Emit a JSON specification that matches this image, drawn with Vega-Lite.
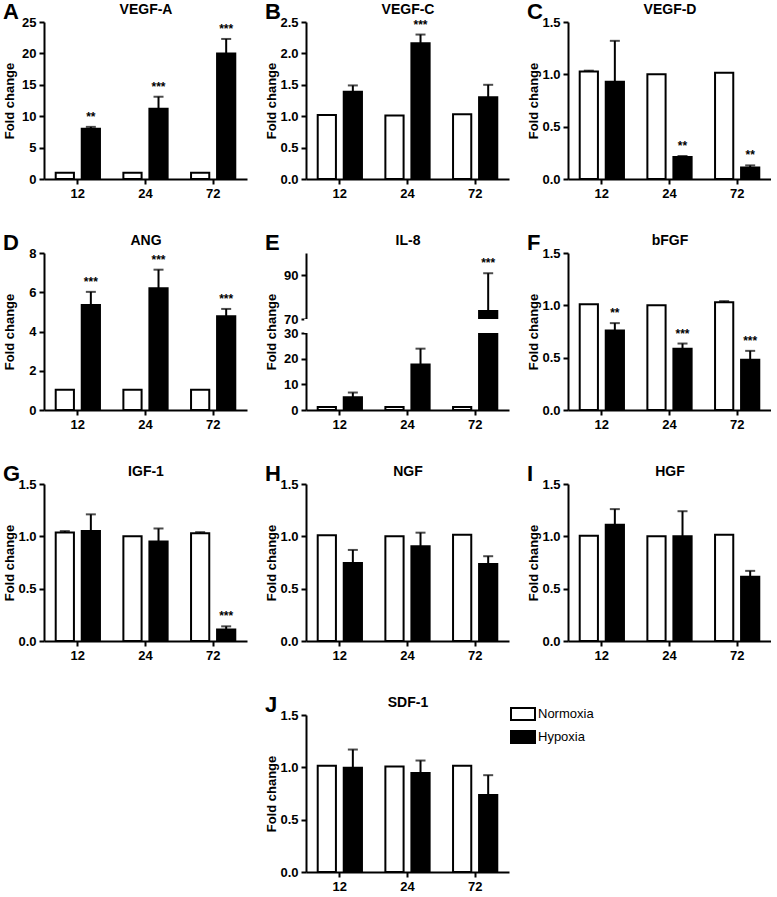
{
  "$schema": "https://vega.github.io/schema/vega-lite/v6.json",
  "padding": {"left": 3, "top": 1, "right": 0, "bottom": 0},
  "background": "white",
  "data": {"values": [
    {"panel":"A","time":"12","cond":"Normoxia","mean":1.0},
    {"panel":"A","time":"12","cond":"Hypoxia","mean":8.0,"hi":8.3,"sig":"**"},
    {"panel":"A","time":"24","cond":"Normoxia","mean":1.0},
    {"panel":"A","time":"24","cond":"Hypoxia","mean":11.2,"hi":13.1,"sig":"***"},
    {"panel":"A","time":"72","cond":"Normoxia","mean":1.0},
    {"panel":"A","time":"72","cond":"Hypoxia","mean":20.0,"hi":22.3,"sig":"***"},
    {"panel":"B","time":"12","cond":"Normoxia","mean":1.02},
    {"panel":"B","time":"12","cond":"Hypoxia","mean":1.39,"hi":1.49},
    {"panel":"B","time":"24","cond":"Normoxia","mean":1.01},
    {"panel":"B","time":"24","cond":"Hypoxia","mean":2.16,"hi":2.3,"sig":"***"},
    {"panel":"B","time":"72","cond":"Normoxia","mean":1.03},
    {"panel":"B","time":"72","cond":"Hypoxia","mean":1.3,"hi":1.5},
    {"panel":"C","time":"12","cond":"Normoxia","mean":1.026,"hi":1.035},
    {"panel":"C","time":"12","cond":"Hypoxia","mean":0.93,"hi":1.32},
    {"panel":"C","time":"24","cond":"Normoxia","mean":1.0},
    {"panel":"C","time":"24","cond":"Hypoxia","mean":0.21,"hi":0.22,"sig":"**"},
    {"panel":"C","time":"72","cond":"Normoxia","mean":1.014},
    {"panel":"C","time":"72","cond":"Hypoxia","mean":0.11,"hi":0.13,"sig":"**"},
    {"panel":"D","time":"12","cond":"Normoxia","mean":1.03},
    {"panel":"D","time":"12","cond":"Hypoxia","mean":5.35,"hi":6.02,"sig":"***"},
    {"panel":"D","time":"24","cond":"Normoxia","mean":1.03},
    {"panel":"D","time":"24","cond":"Hypoxia","mean":6.2,"hi":7.15,"sig":"***"},
    {"panel":"D","time":"72","cond":"Normoxia","mean":1.03},
    {"panel":"D","time":"72","cond":"Hypoxia","mean":4.78,"hi":5.15,"sig":"***"},
    {"panel":"E","time":"12","cond":"Normoxia","mean":1.2},
    {"panel":"E","time":"12","cond":"Hypoxia","mean":5.0,"hi":6.8},
    {"panel":"E","time":"24","cond":"Normoxia","mean":1.2},
    {"panel":"E","time":"24","cond":"Hypoxia","mean":17.7,"hi":23.9},
    {"panel":"E","time":"72","cond":"Normoxia","mean":1.2},
    {"panel":"E","time":"72","cond":"Hypoxia","mean":73.6,"hi":90.8,"sig":"***"},
    {"panel":"F","time":"12","cond":"Normoxia","mean":1.01},
    {"panel":"F","time":"12","cond":"Hypoxia","mean":0.76,"hi":0.83,"sig":"**"},
    {"panel":"F","time":"24","cond":"Normoxia","mean":1.0},
    {"panel":"F","time":"24","cond":"Hypoxia","mean":0.585,"hi":0.635,"sig":"***"},
    {"panel":"F","time":"72","cond":"Normoxia","mean":1.03,"hi":1.04},
    {"panel":"F","time":"72","cond":"Hypoxia","mean":0.48,"hi":0.565,"sig":"***"},
    {"panel":"G","time":"12","cond":"Normoxia","mean":1.037,"hi":1.05},
    {"panel":"G","time":"12","cond":"Hypoxia","mean":1.05,"hi":1.21},
    {"panel":"G","time":"24","cond":"Normoxia","mean":1.0},
    {"panel":"G","time":"24","cond":"Hypoxia","mean":0.95,"hi":1.075},
    {"panel":"G","time":"72","cond":"Normoxia","mean":1.03,"hi":1.04},
    {"panel":"G","time":"72","cond":"Hypoxia","mean":0.11,"hi":0.14,"sig":"***"},
    {"panel":"H","time":"12","cond":"Normoxia","mean":1.01},
    {"panel":"H","time":"12","cond":"Hypoxia","mean":0.745,"hi":0.87},
    {"panel":"H","time":"24","cond":"Normoxia","mean":1.0},
    {"panel":"H","time":"24","cond":"Hypoxia","mean":0.905,"hi":1.035},
    {"panel":"H","time":"72","cond":"Normoxia","mean":1.015},
    {"panel":"H","time":"72","cond":"Hypoxia","mean":0.735,"hi":0.81},
    {"panel":"I","time":"12","cond":"Normoxia","mean":1.005},
    {"panel":"I","time":"12","cond":"Hypoxia","mean":1.11,"hi":1.26},
    {"panel":"I","time":"24","cond":"Normoxia","mean":1.0},
    {"panel":"I","time":"24","cond":"Hypoxia","mean":1.0,"hi":1.24},
    {"panel":"I","time":"72","cond":"Normoxia","mean":1.015},
    {"panel":"I","time":"72","cond":"Hypoxia","mean":0.615,"hi":0.67},
    {"panel":"J","time":"12","cond":"Normoxia","mean":1.014},
    {"panel":"J","time":"12","cond":"Hypoxia","mean":0.995,"hi":1.17},
    {"panel":"J","time":"24","cond":"Normoxia","mean":1.007},
    {"panel":"J","time":"24","cond":"Hypoxia","mean":0.945,"hi":1.065},
    {"panel":"J","time":"72","cond":"Normoxia","mean":1.014},
    {"panel":"J","time":"72","cond":"Hypoxia","mean":0.735,"hi":0.925}
  ]},
  "columns": 3,
  "bounds": "flush",
  "spacing": {"row": 74, "column": 59},
  "resolve": {"scale": {"fill": "independent"}, "legend": {"fill": "independent"}},
  "concat": [
    {
      "title": {"text": "A"}, "width": 203, "height": 157,
      "transform": [{"filter": "datum.panel === 'A'"}],
      "layer": [
        {"mark": {"type": "bar", "stroke": "black", "strokeWidth": 2},
         "encoding": {
           "x": {"field": "time", "type": "nominal", "scale": {"paddingInner": 0, "paddingOuter": 0}, "axis": {"orient": "bottom", "title": null}},
           "xOffset": {"field": "cond", "type": "nominal", "sort": ["Normoxia", "Hypoxia"], "scale": {"paddingInner": 0.3, "paddingOuter": 0.45}},
           "y": {"field": "mean", "type": "quantitative", "title": "Fold change", "scale": {"domain": [0, 25], "nice": false}, "axis": {"values": [0, 5, 10, 15, 20, 25]}},
           "fill": {"field": "cond", "type": "nominal", "scale": {"domain": ["Normoxia", "Hypoxia"], "range": ["white", "black"]}, "legend": null}}},
        {"transform": [{"filter": "datum.hi != null"}], "mark": {"type": "rule", "strokeWidth": 2, "color": "black"},
         "encoding": {"x": {"field": "time", "type": "nominal", "axis": null}, "xOffset": {"field": "cond", "type": "nominal", "sort": ["Normoxia", "Hypoxia"]}, "y": {"field": "mean", "type": "quantitative", "title": "Fold change", "axis": {"values": [0, 5, 10, 15, 20, 25]}}, "y2": {"field": "hi"}}},
        {"transform": [{"filter": "datum.hi != null"}], "mark": {"type": "tick", "thickness": 2, "size": 10, "color": "black"},
         "encoding": {"x": {"field": "time", "type": "nominal", "axis": {"orient": "top", "title": "VEGF-A", "labels": false, "ticks": false, "domain": false}}, "xOffset": {"field": "cond", "type": "nominal", "sort": ["Normoxia", "Hypoxia"]}, "y": {"field": "hi", "type": "quantitative", "title": "Fold change", "axis": {"values": [0, 5, 10, 15, 20, 25]}}}},
        {"transform": [{"filter": "datum.sig"}], "mark": {"type": "text", "baseline": "alphabetic", "dy": -6, "fontSize": 12, "fontWeight": "bold", "color": "black"},
         "encoding": {"x": {"field": "time", "type": "nominal", "axis": null}, "xOffset": {"field": "cond", "type": "nominal", "sort": ["Normoxia", "Hypoxia"]}, "y": {"field": "hi", "type": "quantitative", "title": "Fold change", "axis": {"values": [0, 5, 10, 15, 20, 25]}}, "text": {"field": "sig"}}}
      ],
      "resolve": {"axis": {"x": "independent"}}
    },
    {
      "title": {"text": "B"}, "width": 203, "height": 157,
      "transform": [{"filter": "datum.panel === 'B'"}],
      "layer": [
        {"mark": {"type": "bar", "stroke": "black", "strokeWidth": 2},
         "encoding": {
           "x": {"field": "time", "type": "nominal", "scale": {"paddingInner": 0, "paddingOuter": 0}, "axis": {"orient": "bottom", "title": null}},
           "xOffset": {"field": "cond", "type": "nominal", "sort": ["Normoxia", "Hypoxia"], "scale": {"paddingInner": 0.3, "paddingOuter": 0.45}},
           "y": {"field": "mean", "type": "quantitative", "title": "Fold change", "scale": {"domain": [0, 2.5], "nice": false}, "axis": {"values": [0, 0.5, 1, 1.5, 2, 2.5], "format": ".1f"}},
           "fill": {"field": "cond", "type": "nominal", "scale": {"domain": ["Normoxia", "Hypoxia"], "range": ["white", "black"]}, "legend": null}}},
        {"transform": [{"filter": "datum.hi != null"}], "mark": {"type": "rule", "strokeWidth": 2, "color": "black"},
         "encoding": {"x": {"field": "time", "type": "nominal", "axis": null}, "xOffset": {"field": "cond", "type": "nominal", "sort": ["Normoxia", "Hypoxia"]}, "y": {"field": "mean", "type": "quantitative", "title": "Fold change", "axis": {"values": [0, 0.5, 1, 1.5, 2, 2.5], "format": ".1f"}}, "y2": {"field": "hi"}}},
        {"transform": [{"filter": "datum.hi != null"}], "mark": {"type": "tick", "thickness": 2, "size": 10, "color": "black"},
         "encoding": {"x": {"field": "time", "type": "nominal", "axis": {"orient": "top", "title": "VEGF-C", "labels": false, "ticks": false, "domain": false}}, "xOffset": {"field": "cond", "type": "nominal", "sort": ["Normoxia", "Hypoxia"]}, "y": {"field": "hi", "type": "quantitative", "title": "Fold change", "axis": {"values": [0, 0.5, 1, 1.5, 2, 2.5], "format": ".1f"}}}},
        {"transform": [{"filter": "datum.sig"}], "mark": {"type": "text", "baseline": "alphabetic", "dy": -6, "fontSize": 12, "fontWeight": "bold", "color": "black"},
         "encoding": {"x": {"field": "time", "type": "nominal", "axis": null}, "xOffset": {"field": "cond", "type": "nominal", "sort": ["Normoxia", "Hypoxia"]}, "y": {"field": "hi", "type": "quantitative", "title": "Fold change", "axis": {"values": [0, 0.5, 1, 1.5, 2, 2.5], "format": ".1f"}}, "text": {"field": "sig"}}}
      ],
      "resolve": {"axis": {"x": "independent"}}
    },
    {
      "title": {"text": "C"}, "width": 203, "height": 157,
      "transform": [{"filter": "datum.panel === 'C'"}],
      "layer": [
        {"mark": {"type": "bar", "stroke": "black", "strokeWidth": 2},
         "encoding": {
           "x": {"field": "time", "type": "nominal", "scale": {"paddingInner": 0, "paddingOuter": 0}, "axis": {"orient": "bottom", "title": null}},
           "xOffset": {"field": "cond", "type": "nominal", "sort": ["Normoxia", "Hypoxia"], "scale": {"paddingInner": 0.3, "paddingOuter": 0.45}},
           "y": {"field": "mean", "type": "quantitative", "title": "Fold change", "scale": {"domain": [0, 1.5], "nice": false}, "axis": {"values": [0, 0.5, 1, 1.5], "format": ".1f"}},
           "fill": {"field": "cond", "type": "nominal", "scale": {"domain": ["Normoxia", "Hypoxia"], "range": ["white", "black"]}, "legend": null}}},
        {"transform": [{"filter": "datum.hi != null"}], "mark": {"type": "rule", "strokeWidth": 2, "color": "black"},
         "encoding": {"x": {"field": "time", "type": "nominal", "axis": null}, "xOffset": {"field": "cond", "type": "nominal", "sort": ["Normoxia", "Hypoxia"]}, "y": {"field": "mean", "type": "quantitative", "title": "Fold change", "axis": {"values": [0, 0.5, 1, 1.5], "format": ".1f"}}, "y2": {"field": "hi"}}},
        {"transform": [{"filter": "datum.hi != null"}], "mark": {"type": "tick", "thickness": 2, "size": 10, "color": "black"},
         "encoding": {"x": {"field": "time", "type": "nominal", "axis": {"orient": "top", "title": "VEGF-D", "labels": false, "ticks": false, "domain": false}}, "xOffset": {"field": "cond", "type": "nominal", "sort": ["Normoxia", "Hypoxia"]}, "y": {"field": "hi", "type": "quantitative", "title": "Fold change", "axis": {"values": [0, 0.5, 1, 1.5], "format": ".1f"}}}},
        {"transform": [{"filter": "datum.sig"}], "mark": {"type": "text", "baseline": "alphabetic", "dy": -6, "fontSize": 12, "fontWeight": "bold", "color": "black"},
         "encoding": {"x": {"field": "time", "type": "nominal", "axis": null}, "xOffset": {"field": "cond", "type": "nominal", "sort": ["Normoxia", "Hypoxia"]}, "y": {"field": "hi", "type": "quantitative", "title": "Fold change", "axis": {"values": [0, 0.5, 1, 1.5], "format": ".1f"}}, "text": {"field": "sig"}}}
      ],
      "resolve": {"axis": {"x": "independent"}}
    },
    {
      "title": {"text": "D"}, "width": 203, "height": 157,
      "transform": [{"filter": "datum.panel === 'D'"}],
      "layer": [
        {"mark": {"type": "bar", "stroke": "black", "strokeWidth": 2},
         "encoding": {
           "x": {"field": "time", "type": "nominal", "scale": {"paddingInner": 0, "paddingOuter": 0}, "axis": {"orient": "bottom", "title": null}},
           "xOffset": {"field": "cond", "type": "nominal", "sort": ["Normoxia", "Hypoxia"], "scale": {"paddingInner": 0.3, "paddingOuter": 0.45}},
           "y": {"field": "mean", "type": "quantitative", "title": "Fold change", "scale": {"domain": [0, 8], "nice": false}, "axis": {"values": [0, 2, 4, 6, 8]}},
           "fill": {"field": "cond", "type": "nominal", "scale": {"domain": ["Normoxia", "Hypoxia"], "range": ["white", "black"]}, "legend": null}}},
        {"transform": [{"filter": "datum.hi != null"}], "mark": {"type": "rule", "strokeWidth": 2, "color": "black"},
         "encoding": {"x": {"field": "time", "type": "nominal", "axis": null}, "xOffset": {"field": "cond", "type": "nominal", "sort": ["Normoxia", "Hypoxia"]}, "y": {"field": "mean", "type": "quantitative", "title": "Fold change", "axis": {"values": [0, 2, 4, 6, 8]}}, "y2": {"field": "hi"}}},
        {"transform": [{"filter": "datum.hi != null"}], "mark": {"type": "tick", "thickness": 2, "size": 10, "color": "black"},
         "encoding": {"x": {"field": "time", "type": "nominal", "axis": {"orient": "top", "title": "ANG", "labels": false, "ticks": false, "domain": false}}, "xOffset": {"field": "cond", "type": "nominal", "sort": ["Normoxia", "Hypoxia"]}, "y": {"field": "hi", "type": "quantitative", "title": "Fold change", "axis": {"values": [0, 2, 4, 6, 8]}}}},
        {"transform": [{"filter": "datum.sig"}], "mark": {"type": "text", "baseline": "alphabetic", "dy": -6, "fontSize": 12, "fontWeight": "bold", "color": "black"},
         "encoding": {"x": {"field": "time", "type": "nominal", "axis": null}, "xOffset": {"field": "cond", "type": "nominal", "sort": ["Normoxia", "Hypoxia"]}, "y": {"field": "hi", "type": "quantitative", "title": "Fold change", "axis": {"values": [0, 2, 4, 6, 8]}}, "text": {"field": "sig"}}}
      ],
      "resolve": {"axis": {"x": "independent"}}
    },
    {
      "title": {"text": "E"}, "width": 203, "height": 157,
      "transform": [{"filter": "datum.panel === 'E'"}],
      "layer": [
        {"mark": {"type": "bar", "stroke": "black", "strokeWidth": 2},
         "encoding": {
           "x": {"field": "time", "type": "nominal", "scale": {"paddingInner": 0, "paddingOuter": 0}, "axis": {"orient": "bottom", "title": null}},
           "xOffset": {"field": "cond", "type": "nominal", "sort": ["Normoxia", "Hypoxia"], "scale": {"paddingInner": 0.3, "paddingOuter": 0.45}},
           "y": {"field": "mean", "type": "quantitative", "title": "Fold change", "scale": {"domain": [0, 30, 70, 100], "range": [157, 80, 66, 0], "nice": false, "zero": false}, "axis": {"values": [0, 10, 20, 30, 70, 90]}},
           "fill": {"field": "cond", "type": "nominal", "scale": {"domain": ["Normoxia", "Hypoxia"], "range": ["white", "black"]}, "legend": null}}},
        {"mark": {"type": "rect", "fill": "white", "xOffset": -1.5},
         "encoding": {"x": {"field": "time", "type": "nominal", "axis": null}, "y": {"datum": 30, "type": "quantitative", "title": "Fold change", "axis": {"values": [0, 10, 20, 30, 70, 90]}}, "y2": {"datum": 70}}},
        {"transform": [{"filter": "datum.hi != null"}], "mark": {"type": "rule", "strokeWidth": 2, "color": "black"},
         "encoding": {"x": {"field": "time", "type": "nominal", "axis": null}, "xOffset": {"field": "cond", "type": "nominal", "sort": ["Normoxia", "Hypoxia"]}, "y": {"field": "mean", "type": "quantitative", "title": "Fold change", "axis": {"values": [0, 10, 20, 30, 70, 90]}}, "y2": {"field": "hi"}}},
        {"transform": [{"filter": "datum.hi != null"}], "mark": {"type": "tick", "thickness": 2, "size": 10, "color": "black"},
         "encoding": {"x": {"field": "time", "type": "nominal", "axis": {"orient": "top", "title": "IL-8", "labels": false, "ticks": false, "domain": false}}, "xOffset": {"field": "cond", "type": "nominal", "sort": ["Normoxia", "Hypoxia"]}, "y": {"field": "hi", "type": "quantitative", "title": "Fold change", "axis": {"values": [0, 10, 20, 30, 70, 90]}}}},
        {"transform": [{"filter": "datum.sig"}], "mark": {"type": "text", "baseline": "alphabetic", "dy": -6, "fontSize": 12, "fontWeight": "bold", "color": "black"},
         "encoding": {"x": {"field": "time", "type": "nominal", "axis": null}, "xOffset": {"field": "cond", "type": "nominal", "sort": ["Normoxia", "Hypoxia"]}, "y": {"field": "hi", "type": "quantitative", "title": "Fold change", "axis": {"values": [0, 10, 20, 30, 70, 90]}}, "text": {"field": "sig"}}}
      ],
      "resolve": {"axis": {"x": "independent"}}
    },
    {
      "title": {"text": "F"}, "width": 203, "height": 157,
      "transform": [{"filter": "datum.panel === 'F'"}],
      "layer": [
        {"mark": {"type": "bar", "stroke": "black", "strokeWidth": 2},
         "encoding": {
           "x": {"field": "time", "type": "nominal", "scale": {"paddingInner": 0, "paddingOuter": 0}, "axis": {"orient": "bottom", "title": null}},
           "xOffset": {"field": "cond", "type": "nominal", "sort": ["Normoxia", "Hypoxia"], "scale": {"paddingInner": 0.3, "paddingOuter": 0.45}},
           "y": {"field": "mean", "type": "quantitative", "title": "Fold change", "scale": {"domain": [0, 1.5], "nice": false}, "axis": {"values": [0, 0.5, 1, 1.5], "format": ".1f"}},
           "fill": {"field": "cond", "type": "nominal", "scale": {"domain": ["Normoxia", "Hypoxia"], "range": ["white", "black"]}, "legend": null}}},
        {"transform": [{"filter": "datum.hi != null"}], "mark": {"type": "rule", "strokeWidth": 2, "color": "black"},
         "encoding": {"x": {"field": "time", "type": "nominal", "axis": null}, "xOffset": {"field": "cond", "type": "nominal", "sort": ["Normoxia", "Hypoxia"]}, "y": {"field": "mean", "type": "quantitative", "title": "Fold change", "axis": {"values": [0, 0.5, 1, 1.5], "format": ".1f"}}, "y2": {"field": "hi"}}},
        {"transform": [{"filter": "datum.hi != null"}], "mark": {"type": "tick", "thickness": 2, "size": 10, "color": "black"},
         "encoding": {"x": {"field": "time", "type": "nominal", "axis": {"orient": "top", "title": "bFGF", "labels": false, "ticks": false, "domain": false}}, "xOffset": {"field": "cond", "type": "nominal", "sort": ["Normoxia", "Hypoxia"]}, "y": {"field": "hi", "type": "quantitative", "title": "Fold change", "axis": {"values": [0, 0.5, 1, 1.5], "format": ".1f"}}}},
        {"transform": [{"filter": "datum.sig"}], "mark": {"type": "text", "baseline": "alphabetic", "dy": -6, "fontSize": 12, "fontWeight": "bold", "color": "black"},
         "encoding": {"x": {"field": "time", "type": "nominal", "axis": null}, "xOffset": {"field": "cond", "type": "nominal", "sort": ["Normoxia", "Hypoxia"]}, "y": {"field": "hi", "type": "quantitative", "title": "Fold change", "axis": {"values": [0, 0.5, 1, 1.5], "format": ".1f"}}, "text": {"field": "sig"}}}
      ],
      "resolve": {"axis": {"x": "independent"}}
    },
    {
      "title": {"text": "G"}, "width": 203, "height": 157,
      "transform": [{"filter": "datum.panel === 'G'"}],
      "layer": [
        {"mark": {"type": "bar", "stroke": "black", "strokeWidth": 2},
         "encoding": {
           "x": {"field": "time", "type": "nominal", "scale": {"paddingInner": 0, "paddingOuter": 0}, "axis": {"orient": "bottom", "title": null}},
           "xOffset": {"field": "cond", "type": "nominal", "sort": ["Normoxia", "Hypoxia"], "scale": {"paddingInner": 0.3, "paddingOuter": 0.45}},
           "y": {"field": "mean", "type": "quantitative", "title": "Fold change", "scale": {"domain": [0, 1.5], "nice": false}, "axis": {"values": [0, 0.5, 1, 1.5], "format": ".1f"}},
           "fill": {"field": "cond", "type": "nominal", "scale": {"domain": ["Normoxia", "Hypoxia"], "range": ["white", "black"]}, "legend": null}}},
        {"transform": [{"filter": "datum.hi != null"}], "mark": {"type": "rule", "strokeWidth": 2, "color": "black"},
         "encoding": {"x": {"field": "time", "type": "nominal", "axis": null}, "xOffset": {"field": "cond", "type": "nominal", "sort": ["Normoxia", "Hypoxia"]}, "y": {"field": "mean", "type": "quantitative", "title": "Fold change", "axis": {"values": [0, 0.5, 1, 1.5], "format": ".1f"}}, "y2": {"field": "hi"}}},
        {"transform": [{"filter": "datum.hi != null"}], "mark": {"type": "tick", "thickness": 2, "size": 10, "color": "black"},
         "encoding": {"x": {"field": "time", "type": "nominal", "axis": {"orient": "top", "title": "IGF-1", "labels": false, "ticks": false, "domain": false}}, "xOffset": {"field": "cond", "type": "nominal", "sort": ["Normoxia", "Hypoxia"]}, "y": {"field": "hi", "type": "quantitative", "title": "Fold change", "axis": {"values": [0, 0.5, 1, 1.5], "format": ".1f"}}}},
        {"transform": [{"filter": "datum.sig"}], "mark": {"type": "text", "baseline": "alphabetic", "dy": -6, "fontSize": 12, "fontWeight": "bold", "color": "black"},
         "encoding": {"x": {"field": "time", "type": "nominal", "axis": null}, "xOffset": {"field": "cond", "type": "nominal", "sort": ["Normoxia", "Hypoxia"]}, "y": {"field": "hi", "type": "quantitative", "title": "Fold change", "axis": {"values": [0, 0.5, 1, 1.5], "format": ".1f"}}, "text": {"field": "sig"}}}
      ],
      "resolve": {"axis": {"x": "independent"}}
    },
    {
      "title": {"text": "H"}, "width": 203, "height": 157,
      "transform": [{"filter": "datum.panel === 'H'"}],
      "layer": [
        {"mark": {"type": "bar", "stroke": "black", "strokeWidth": 2},
         "encoding": {
           "x": {"field": "time", "type": "nominal", "scale": {"paddingInner": 0, "paddingOuter": 0}, "axis": {"orient": "bottom", "title": null}},
           "xOffset": {"field": "cond", "type": "nominal", "sort": ["Normoxia", "Hypoxia"], "scale": {"paddingInner": 0.3, "paddingOuter": 0.45}},
           "y": {"field": "mean", "type": "quantitative", "title": "Fold change", "scale": {"domain": [0, 1.5], "nice": false}, "axis": {"values": [0, 0.5, 1, 1.5], "format": ".1f"}},
           "fill": {"field": "cond", "type": "nominal", "scale": {"domain": ["Normoxia", "Hypoxia"], "range": ["white", "black"]}, "legend": null}}},
        {"transform": [{"filter": "datum.hi != null"}], "mark": {"type": "rule", "strokeWidth": 2, "color": "black"},
         "encoding": {"x": {"field": "time", "type": "nominal", "axis": null}, "xOffset": {"field": "cond", "type": "nominal", "sort": ["Normoxia", "Hypoxia"]}, "y": {"field": "mean", "type": "quantitative", "title": "Fold change", "axis": {"values": [0, 0.5, 1, 1.5], "format": ".1f"}}, "y2": {"field": "hi"}}},
        {"transform": [{"filter": "datum.hi != null"}], "mark": {"type": "tick", "thickness": 2, "size": 10, "color": "black"},
         "encoding": {"x": {"field": "time", "type": "nominal", "axis": {"orient": "top", "title": "NGF", "labels": false, "ticks": false, "domain": false}}, "xOffset": {"field": "cond", "type": "nominal", "sort": ["Normoxia", "Hypoxia"]}, "y": {"field": "hi", "type": "quantitative", "title": "Fold change", "axis": {"values": [0, 0.5, 1, 1.5], "format": ".1f"}}}}
      ],
      "resolve": {"axis": {"x": "independent"}}
    },
    {
      "title": {"text": "I"}, "width": 203, "height": 157,
      "transform": [{"filter": "datum.panel === 'I'"}],
      "layer": [
        {"mark": {"type": "bar", "stroke": "black", "strokeWidth": 2},
         "encoding": {
           "x": {"field": "time", "type": "nominal", "scale": {"paddingInner": 0, "paddingOuter": 0}, "axis": {"orient": "bottom", "title": null}},
           "xOffset": {"field": "cond", "type": "nominal", "sort": ["Normoxia", "Hypoxia"], "scale": {"paddingInner": 0.3, "paddingOuter": 0.45}},
           "y": {"field": "mean", "type": "quantitative", "title": "Fold change", "scale": {"domain": [0, 1.5], "nice": false}, "axis": {"values": [0, 0.5, 1, 1.5], "format": ".1f"}},
           "fill": {"field": "cond", "type": "nominal", "scale": {"domain": ["Normoxia", "Hypoxia"], "range": ["white", "black"]}, "legend": null}}},
        {"transform": [{"filter": "datum.hi != null"}], "mark": {"type": "rule", "strokeWidth": 2, "color": "black"},
         "encoding": {"x": {"field": "time", "type": "nominal", "axis": null}, "xOffset": {"field": "cond", "type": "nominal", "sort": ["Normoxia", "Hypoxia"]}, "y": {"field": "mean", "type": "quantitative", "title": "Fold change", "axis": {"values": [0, 0.5, 1, 1.5], "format": ".1f"}}, "y2": {"field": "hi"}}},
        {"transform": [{"filter": "datum.hi != null"}], "mark": {"type": "tick", "thickness": 2, "size": 10, "color": "black"},
         "encoding": {"x": {"field": "time", "type": "nominal", "axis": {"orient": "top", "title": "HGF", "labels": false, "ticks": false, "domain": false}}, "xOffset": {"field": "cond", "type": "nominal", "sort": ["Normoxia", "Hypoxia"]}, "y": {"field": "hi", "type": "quantitative", "title": "Fold change", "axis": {"values": [0, 0.5, 1, 1.5], "format": ".1f"}}}}
      ],
      "resolve": {"axis": {"x": "independent"}}
    },
    {
      "width": 203, "height": 157,
      "transform": [{"filter": "datum.panel === 'Z'"}],
      "mark": {"type": "point", "opacity": 0},
      "encoding": {}
    },
    {
      "title": {"text": "J"}, "width": 203, "height": 157,
      "transform": [{"filter": "datum.panel === 'J'"}],
      "layer": [
        {"mark": {"type": "bar", "stroke": "black", "strokeWidth": 2},
         "encoding": {
           "x": {"field": "time", "type": "nominal", "scale": {"paddingInner": 0, "paddingOuter": 0}, "axis": {"orient": "bottom", "title": null}},
           "xOffset": {"field": "cond", "type": "nominal", "sort": ["Normoxia", "Hypoxia"], "scale": {"paddingInner": 0.3, "paddingOuter": 0.45}},
           "y": {"field": "mean", "type": "quantitative", "title": "Fold change", "scale": {"domain": [0, 1.5], "nice": false}, "axis": {"values": [0, 0.5, 1, 1.5], "format": ".1f"}},
           "fill": {"field": "cond", "type": "nominal", "scale": {"domain": ["Normoxia", "Hypoxia"], "range": ["white", "black"]},
             "legend": {"title": null, "orient": "none", "legendX": 204, "legendY": -14, "padding": 0, "symbolType": "M-1,-0.5H1V0.5H-1Z", "symbolSize": 576, "symbolStrokeColor": "black", "symbolStrokeWidth": 2, "labelFont": "Liberation Sans", "labelFontSize": 13, "labelColor": "black", "labelOffset": 2, "rowPadding": -2}}}},
        {"transform": [{"filter": "datum.hi != null"}], "mark": {"type": "rule", "strokeWidth": 2, "color": "black"},
         "encoding": {"x": {"field": "time", "type": "nominal", "axis": null}, "xOffset": {"field": "cond", "type": "nominal", "sort": ["Normoxia", "Hypoxia"]}, "y": {"field": "mean", "type": "quantitative", "title": "Fold change", "axis": {"values": [0, 0.5, 1, 1.5], "format": ".1f"}}, "y2": {"field": "hi"}}},
        {"transform": [{"filter": "datum.hi != null"}], "mark": {"type": "tick", "thickness": 2, "size": 10, "color": "black"},
         "encoding": {"x": {"field": "time", "type": "nominal", "axis": {"orient": "top", "title": "SDF-1", "labels": false, "ticks": false, "domain": false}}, "xOffset": {"field": "cond", "type": "nominal", "sort": ["Normoxia", "Hypoxia"]}, "y": {"field": "hi", "type": "quantitative", "title": "Fold change", "axis": {"values": [0, 0.5, 1, 1.5], "format": ".1f"}}}}
      ],
      "resolve": {"axis": {"x": "independent"}}
    }
  ],
  "config": {
    "view": {"stroke": null},
    "font": "Liberation Sans",
    "title": {"anchor": "start", "frame": "bounds", "fontSize": 22, "fontWeight": "bold", "font": "Liberation Sans", "color": "black", "offset": -22},
    "axis": {"grid": false, "labelOverlap": false, "domainColor": "black", "domainWidth": 2, "tickColor": "black", "tickWidth": 2, "tickSize": 5, "labelColor": "black", "labelFont": "Liberation Sans", "labelFontSize": 13, "labelFontWeight": "bold", "titleColor": "black", "titleFont": "Liberation Sans", "titleFontWeight": "bold"},
    "axisX": {"labelAngle": 0, "labelPadding": 3, "titleFontSize": 14, "titlePadding": 6},
    "axisY": {"labelPadding": 3, "titleFontSize": 13, "titlePadding": 4, "minExtent": 24, "maxExtent": 24}
  }
}
